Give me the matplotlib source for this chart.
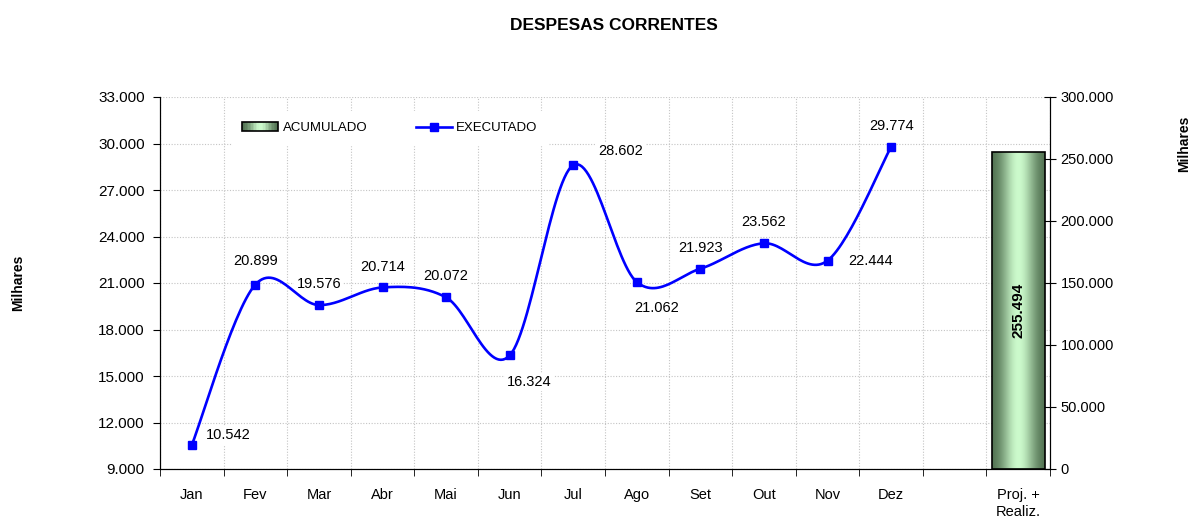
import numpy as np
import matplotlib
matplotlib.use("Agg")
import matplotlib.pyplot as plt
from matplotlib.patches import Patch, Rectangle
from matplotlib.lines import Line2D
from matplotlib.legend_handler import HandlerBase
from matplotlib.ticker import FuncFormatter, FixedLocator

plt.rcParams['font.family'] = ['Liberation Sans', 'DejaVu Sans']

# ---- data ----
categories = ["Jan", "Fev", "Mar", "Abr", "Mai", "Jun", "Jul", "Ago", "Set",
              "Out", "Nov", "Dez", "", "Proj. +\nRealiz."]
executado = [10542, 20899, 19576, 20714, 20072, 16324, 28602, 21062, 21923,
             23562, 22444, 29774]
acumulado = 255494
acum_index = 13
label_pos = ["ur", "ul", "u", "u", "u", "dr", "r", "dr", "u", "u", "r2", "u"]


def thousands(v, _=None):
    return f"{int(round(v)):,}".replace(",", ".")


def smooth(xs, ys, n=30):
    xs = np.asarray(xs, float); ys = np.asarray(ys, float)
    P = np.column_stack([xs, ys])
    out = []
    for i in range(len(P) - 1):
        p0 = P[i - 1] if i > 0 else P[i]
        p1 = P[i]; p2 = P[i + 1]
        p3 = P[i + 2] if i + 2 < len(P) else P[i + 1]
        c1 = p1 + (p2 - p0) / 6.0
        c2 = p2 - (p3 - p1) / 6.0
        t = np.linspace(0, 1, n)[:, None]
        seg = ((1 - t) ** 3) * p1 + 3 * ((1 - t) ** 2) * t * c1 + 3 * (1 - t) * t ** 2 * c2 + t ** 3 * p2
        out.append(seg if i == 0 else seg[1:])
    s = np.vstack(out)
    return s[:, 0], s[:, 1]


def grad_colors(n):
    prof = np.linspace(0, 1, n)
    shape = np.exp(-((prof - 0.5) / 0.32) ** 2)
    dark = np.array([0.28, 0.40, 0.28]); light = np.array([0.80, 0.98, 0.80])
    return dark[None, :] + (light - dark)[None, :] * shape[:, None]


class GradientHandler(HandlerBase):
    def create_artists(self, legend, orig_handle, xdescent, ydescent, width,
                       height, fontsize, trans):
        arts = []
        n = 24
        cols = grad_colors(n)
        for k in range(n):
            r = Rectangle((-xdescent + width * k / n, -ydescent), width / n + 0.3, height,
                          facecolor=cols[k], edgecolor="none", transform=trans)
            arts.append(r)
        arts.append(Rectangle((-xdescent, -ydescent), width, height, facecolor="none",
                              edgecolor="black", lw=1.2, transform=trans))
        return arts


fig = plt.figure(figsize=(11.9, 5.18), dpi=100)
ax = fig.add_axes([160 / 1190, 49 / 518, 890 / 1190, 372 / 518])
ax2 = ax.twinx()

ncat = len(categories)
x_months = np.arange(len(executado))

# line
sx, sy = smooth(x_months, executado)
ax.plot(sx, sy, color="#0000FF", lw=1.9, zorder=3)
ax.plot(x_months, executado, ls="none", marker="s", ms=6, color="#0000FF", zorder=4)

offsets = {"ur": (10, 2, "left", "bottom"), "ul": (0, 12, "center", "bottom"),
           "u": (0, 10, "center", "bottom"), "dr": (14, -14, "center", "top"),
           "r": (18, 10, "left", "center"), "r2": (15, 0, "left", "center")}
for i, v in enumerate(executado):
    dx, dy, ha, va = offsets[label_pos[i]]
    ax.annotate(thousands(v), (i, v), xytext=(dx, dy), textcoords="offset points",
                ha=ha, va=va, fontsize=10.5, zorder=2.5,
                bbox=dict(boxstyle="square,pad=0.15", facecolor="white", edgecolor="none"))

ax.set_xlim(-0.5, ncat - 0.5)
ax.set_ylim(9000, 33000)
ax.set_yticks(np.arange(9000, 33001, 3000))
ax.yaxis.set_major_formatter(FuncFormatter(thousands))
ax.set_xticks(np.arange(ncat))
ax.set_xticklabels(categories, fontsize=10.5)
ax.tick_params(axis="x", which="major", length=0, pad=14)
ax.xaxis.set_minor_locator(FixedLocator(np.arange(-0.5, ncat, 1.0)))
ax.tick_params(axis="x", which="minor", length=5, direction="out")
ax.tick_params(axis="y", labelsize=11, length=5, direction="out", pad=6)
gkw = dict(color="#c4c4c4", ls=(0, (1, 1.5)), lw=0.8)
ax.grid(True, which="major", axis="y", **gkw)
ax.grid(True, which="minor", axis="x", **gkw)
ax.set_axisbelow(True)
ax.spines["top"].set_visible(False)
ax2.spines["top"].set_visible(False)

# bar on secondary axis
bw = 0.83
bars = ax2.bar([acum_index], [acumulado], width=bw, facecolor="none",
               edgecolor="black", lw=1.2, zorder=3)
patch = bars[0]
img = grad_colors(200)[None, :, :]
im = ax2.imshow(img, extent=[acum_index - bw / 2, acum_index + bw / 2, 0, acumulado],
                aspect="auto", zorder=2, interpolation="bilinear")
im.set_clip_path(patch)
ax2.text(acum_index, acumulado / 2, thousands(acumulado), rotation=90,
         ha="center", va="center", fontsize=11, fontweight="bold", zorder=5)

ax2.set_xlim(-0.5, ncat - 0.5)
ax2.set_ylim(0, 300000)
ax2.set_yticks(np.arange(0, 300001, 50000))
ax2.yaxis.set_major_formatter(FuncFormatter(thousands))
ax2.tick_params(axis="y", labelsize=10.5, length=8, direction="inout")

# titles / labels
fig.text(614 / 1190, 1 - 25 / 518, "DESPESAS CORRENTES", ha="center", va="center",
         fontsize=12.5, fontweight="bold")
fig.text(18 / 1190, 1 - 283 / 518, "Milhares", rotation=90, ha="center", va="center",
         fontsize=10, fontweight="bold")
fig.text(1184 / 1190, 1 - 144 / 518, "Milhares", rotation=90, ha="center", va="center",
         fontsize=10, fontweight="bold")

acum_handle = Patch(facecolor="#a8d8a8", edgecolor="black", lw=1.2)
handles = [acum_handle,
           Line2D([0], [0], color="#0000FF", lw=1.9, marker="s", ms=6)]
leg = ax2.legend(handles, ["ACUMULADO", "EXECUTADO"], ncol=2, loc="center",
                 bbox_to_anchor=((390 - 160) / 890, 1 - (128 - 97) / 372),
                 frameon=True, fancybox=False, edgecolor="white", facecolor="white",
                 framealpha=1, fontsize=9.5, handlelength=2.7, handleheight=0.6,
                 columnspacing=3.7, borderpad=0.8, handletextpad=0.35,
                 handler_map={acum_handle: GradientHandler()})
leg.set_zorder(10)

fig.savefig("out.png", dpi=100)
